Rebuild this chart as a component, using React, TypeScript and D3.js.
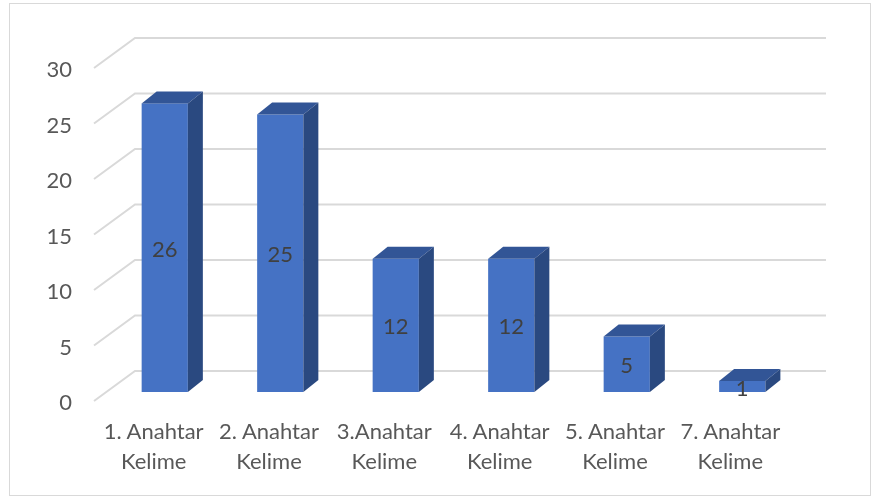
import React from "react";
import * as d3 from "d3";

const categories = ["1. Anahtar|Kelime", "2. Anahtar|Kelime", "3.Anahtar|Kelime", "4. Anahtar|Kelime", "5. Anahtar|Kelime", "7. Anahtar|Kelime"];
const values = [26, 25, 12, 12, 5, 1];
const yTicks = [0, 5, 10, 15, 20, 25, 30];

const W = 873, H = 498;
const depthX = 41, depthY = 30;
const floorFrontY = 401, topFrontY = 68;
const frontLeft = 94, backRight = 826;
const barBaseY = 392;
const barDX = 15, barDY = 12;

const y = d3.scaleLinear().domain([0, 30]).range([floorFrontY, topFrontY]);
const labelX = d3.scaleBand<string>().domain(categories).range([96, 788]);
const barX = d3.scaleBand<string>().domain(categories).range([107, 800]).paddingInner(0.6).paddingOuter(0.3);

const font = "Lato, 'Open Sans', sans-serif";
const textCol = "#595959";
const gridCol = "#d9d9d9";

export default function App() {
  return (
    <svg width={W} height={H} style={{ position: "absolute", left: 0, top: 0, background: "#fff" }}>
      <defs>
        <filter id="soft" x="0" y="0" width="100%" height="100%">
          <feGaussianBlur stdDeviation="0.45" />
        </filter>
      </defs>
      <g filter="url(#soft)">
        <rect x={9} y={3} width={862} height={493} fill="#fff" stroke="#d9d9d9" strokeWidth={2} />
        {yTicks.map((t) => {
          const p = d3.path();
          p.moveTo(frontLeft, y(t));
          p.lineTo(frontLeft + depthX, y(t) - depthY);
          p.lineTo(backRight, y(t) - depthY);
          return (
            <g key={t}>
              <path d={p.toString()} fill="none" stroke={gridCol} strokeWidth={2} />
              <text x={72} y={y(t) + 3.5} fontFamily={font} fontSize={22} fill={textCol} textAnchor="end" dominantBaseline="middle">{t}</text>
            </g>
          );
        })}
        {categories.map((c, i) => {
          const x0 = barX(c)!;
          const w = barX.bandwidth();
          const h = y(0) - y(values[i]);
          const top = barBaseY - h;
          const x1 = x0 + w;
          const cx = labelX(c)! + labelX.bandwidth() / 2;
          const [l1, l2] = c.split("|");
          const topFace = d3.path();
          topFace.moveTo(x0, top); topFace.lineTo(x0 + barDX, top - barDY); topFace.lineTo(x1 + barDX, top - barDY); topFace.lineTo(x1, top); topFace.closePath();
          const side = d3.path();
          side.moveTo(x1, top); side.lineTo(x1 + barDX, top - barDY); side.lineTo(x1 + barDX, barBaseY - barDY); side.lineTo(x1, barBaseY); side.closePath();
          return (
            <g key={c}>
              <rect x={x0} y={top} width={w} height={h} fill="#4472c4" />
              <path d={topFace.toString()} fill="#325596" />
              <path d={side.toString()} fill="#2a4880" />
              <text x={x0 + w / 2} y={top + h / 2 + 3.5} fontFamily={font} fontSize={22} fill="#404040" textAnchor="middle" dominantBaseline="middle">{values[i]}</text>
              <text x={cx} y={439} fontFamily={font} fontSize={22} fill={textCol} textAnchor="middle">{l1}</text>
              <text x={cx} y={469} fontFamily={font} fontSize={22} fill={textCol} textAnchor="middle">{l2}</text>
            </g>
          );
        })}
      </g>
    </svg>
  );
}
